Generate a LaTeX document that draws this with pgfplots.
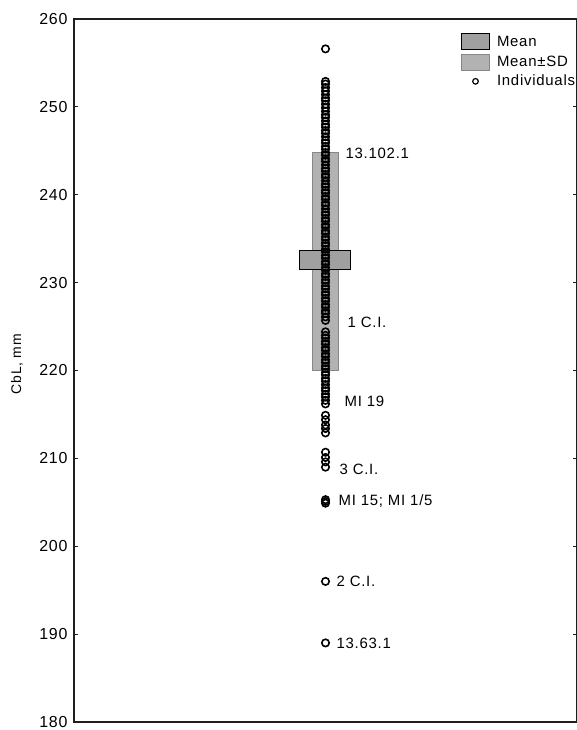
\documentclass[border=0pt]{standalone}
\usepackage{pgfplots}
\pgfplotsset{compat=1.18}
\usepackage{fontspec}
\setmainfont{Liberation Sans}
\newfontfamily\spaced[LetterSpace=5]{Liberation Sans}
\definecolor{meanfill}{RGB}{160,160,160}
\definecolor{sdfill}{RGB}{178,178,178}
\definecolor{sdedge}{RGB}{135,135,135}
\definecolor{axgray}{RGB}{30,30,30}
\pgfplotstableread{
x y
0.5 256.6
0.5 252.9
0.5 252.6
0.5 252.2
0.5 251.8
0.5 251.4
0.5 251.0
0.5 250.7
0.5 250.3
0.5 249.9
0.5 249.5
0.5 249.1
0.5 248.8
0.5 248.4
0.5 248.0
0.5 247.7
0.5 247.3
0.5 247.0
0.5 246.6
0.5 246.2
0.5 245.9
0.5 245.5
0.5 245.2
0.5 244.8
0.5 244.5
0.5 244.1
0.5 243.8
0.5 243.4
0.5 243.0
0.5 242.7
0.5 242.3
0.5 242.0
0.5 241.6
0.5 241.2
0.5 240.9
0.5 240.5
0.5 240.2
0.5 239.8
0.5 239.5
0.5 239.1
0.5 238.8
0.5 238.4
0.5 238.0
0.5 237.7
0.5 237.3
0.5 237.0
0.5 236.6
0.5 236.3
0.5 235.9
0.5 235.6
0.5 235.2
0.5 234.9
0.5 234.5
0.5 234.2
0.5 233.8
0.5 233.5
0.5 233.1
0.5 232.8
0.5 232.4
0.5 232.1
0.5 231.7
0.5 231.4
0.5 231.0
0.5 230.7
0.5 230.3
0.5 230.0
0.5 229.6
0.5 229.3
0.5 228.9
0.5 228.6
0.5 228.2
0.5 227.9
0.5 227.5
0.5 227.2
0.5 226.8
0.5 226.5
0.5 226.1
0.5 225.7
0.5 224.4
0.5 224.0
0.5 223.7
0.5 223.3
0.5 223.0
0.5 222.6
0.5 222.3
0.5 221.9
0.5 221.6
0.5 221.2
0.5 220.9
0.5 220.5
0.5 220.2
0.5 219.8
0.5 219.5
0.5 219.1
0.5 218.8
0.5 218.4
0.5 218.0
0.5 217.7
0.5 217.3
0.5 217.0
0.5 216.6
0.5 216.2
0.5 214.9
0.5 214.4
0.5 213.8
0.5 213.4
0.5 212.9
0.5 210.7
0.5 210.1
0.5 209.6
0.5 209.0
0.5 205.3
0.5 205.1
0.5 204.9
0.5 196.0
0.5 189.0
}\individuals
\begin{document}
\begin{tikzpicture}
\begin{axis}[
  at={(0,0)}, anchor=south west,
  scale only axis,
  width=503bp, height=703bp,
  xmin=0, xmax=1, ymin=180, ymax=260,
  xtick=\empty,
  ytick={180,190,...,260},
  tick align=inside,
  ytick pos=both,
  yticklabel pos=left,
  major tick length=4bp,
  tick style={axgray, line width=0.9bp},
  axis line style={axgray, line width=1.1bp},
  /pgf/number format/assume math mode=true,
  yticklabel style={font=\spaced\fontsize{16}{19}\selectfont, xshift=-3bp},
  ylabel={CbL, mm},
  every axis y label/.style={at={([xshift=-57bp]rel axis cs:0,0.509)}, rotate=90, anchor=center, font=\spaced\fontsize{14}{17}\selectfont},
  legend style={at={(rel axis cs:0.769,0.980)}, anchor=north west, draw=none, fill=none,
    font=\spaced\fontsize{15}{18}\selectfont, row sep=3.5bp, inner sep=0pt,
    nodes={inner sep=1bp, anchor=west},
    /tikz/every odd column/.append style={column sep=6bp}},
  legend cell align=left,
  clip=false,
]
\addlegendimage{legend image code/.code={\draw[fill=meanfill, draw=black, line width=1bp] (0bp,-8bp) rectangle (28bp,8bp);}}
\addlegendentry{Mean}
\addlegendimage{legend image code/.code={\draw[fill=sdfill, draw=sdedge, line width=0.9bp] (0bp,-8bp) rectangle (28bp,8bp);}}
\addlegendentry{Mean±SD}
\addlegendimage{legend image code/.code={\draw[line width=1.2bp] (14bp,0bp) circle (2.8bp);}}
\addlegendentry{Individuals}
\addplot[fill=sdfill, draw=sdedge, line width=0.9bp, forget plot]
  coordinates {(0.475,220.0) (0.525,220.0) (0.525,244.8) (0.475,244.8)} --cycle;
\addplot[fill=meanfill, draw=black, line width=1bp, forget plot]
  coordinates {(0.449,231.5) (0.549,231.5) (0.549,233.6) (0.449,233.6)} --cycle;
\addplot[only marks, mark=o, mark size=3.7bp, mark options={line width=1.6bp, draw=black}, forget plot]
  table[x=x, y=y] {\individuals};
\node[anchor=west, font=\spaced\fontsize{15}{18}\selectfont] at (axis cs:0.533,244.7) {13.102.1};
\node[anchor=west, font=\spaced\fontsize{15}{18}\selectfont] at (axis cs:0.537,225.5) {1 C.I.};
\node[anchor=west, font=\spaced\fontsize{15}{18}\selectfont] at (axis cs:0.531,216.5) {MI 19};
\node[anchor=west, font=\spaced\fontsize{15}{18}\selectfont] at (axis cs:0.521,208.7) {3 C.I.};
\node[anchor=west, font=\spaced\fontsize{15}{18}\selectfont] at (axis cs:0.519,205.1) {MI 15; MI 1/5};
\node[anchor=west, font=\spaced\fontsize{15}{18}\selectfont] at (axis cs:0.515,196.0) {2 C.I.};
\node[anchor=west, font=\spaced\fontsize{15}{18}\selectfont] at (axis cs:0.515,189.0) {13.63.1};
\end{axis}
\pgfresetboundingbox
\useasboundingbox (-74bp,-8bp) rectangle (503bp,722bp);
\end{tikzpicture}
\end{document}
